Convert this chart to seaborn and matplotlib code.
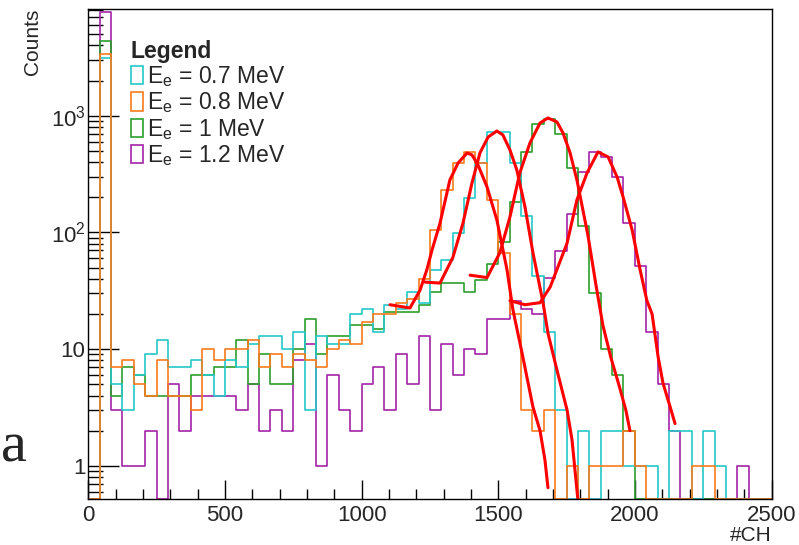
import numpy as np
import pandas as pd
import matplotlib
matplotlib.use("Agg")
import matplotlib.pyplot as plt
import seaborn as sns
from matplotlib.patches import Patch
from matplotlib.ticker import LogLocator, MultipleLocator, FixedLocator, FuncFormatter, NullFormatter

# binning of the spectra: 60 bins over 0-2500 channels
n_bins = 60
ch_max = 2500

series_names = ["0.7", "0.8", "1", "1.2"]
legend_labels = [r"$\mathregular{E_e}$ = 0.7 MeV", r"$\mathregular{E_e}$ = 0.8 MeV",
                 r"$\mathregular{E_e}$ = 1 MeV", r"$\mathregular{E_e}$ = 1.2 MeV"]
colors = {"0.7": "#25C8C8", "0.8": "#F97A1C", "1": "#2E9E2E", "1.2": "#A323A8"}

# counts per bin
counts_07 = [0, 3100, 5, 3, 6, 9, 12, 7, 7, 8, 6, 4, 8, 7, 11, 13, 13, 10, 14, 3,
             13, 11, 11, 20, 22, 14, 24, 22, 31, 25, 48, 58, 98, 196, 390, 721, 721, 390, 138, 42,
             14, 3, 0, 2, 0, 2, 2, 1, 1, 1, 0, 2, 2, 0, 2, 1, 0, 0, 0, 0]
counts_08 = [0, 3380, 7, 8, 5, 4, 8, 4, 4, 3, 10, 8, 10, 10, 12, 7, 9, 7, 9, 8,
             7, 10, 12, 11, 17, 20, 20, 25, 27, 40, 104, 230, 396, 485, 396, 189, 66, 20, 3, 2,
             3, 0, 1, 0, 1, 1, 1, 2, 1, 0, 0, 0, 0, 1, 1, 0, 0, 0, 0, 0]
counts_10 = [0, 4370, 4, 7, 6, 4, 4, 4, 4, 6, 6, 7, 7, 12, 5, 9, 5, 5, 10, 18,
             9, 13, 13, 16, 16, 15, 21, 21, 21, 24, 31, 37, 37, 31, 39, 54, 83, 181, 490, 850,
             937, 697, 354, 113, 30, 10, 6, 2, 0, 0, 0, 0, 0, 0, 0, 0, 0, 0, 0, 0]
counts_12 = [0, 7700, 3, 1, 1, 2, 0, 5, 2, 4, 4, 4, 4, 3, 5, 2, 3, 2, 8, 11,
             1, 6, 3, 2, 5, 7, 3, 9, 5, 13, 3, 11, 6, 10, 9, 18, 18, 26, 22, 20,
             41, 69, 145, 327, 492, 446, 300, 120, 52, 14, 5, 2, 0, 0, 0, 0, 0, 1, 0, 0]

# fitted curves (channel, counts)
fit_08_ch = [1104, 1177, 1214, 1239, 1258, 1287, 1323, 1353, 1386, 1404, 1426, 1459, 1495, 1532,
             1554, 1587, 1627, 1653, 1671, 1682]
fit_08_counts = [24, 22.5, 32, 48, 71, 120, 281, 393, 479, 461, 378, 245, 128, 48,
                 21.6, 9.3, 3.2, 2.0, 1.12, 0.65]
fit_07_ch = [1232, 1287, 1334, 1371, 1404, 1433, 1463, 1495, 1517, 1543, 1568, 1598, 1627, 1664,
             1682, 1715, 1752, 1770, 1792]
fit_07_counts = [37.5, 36.8, 61, 120, 265, 479, 656, 739, 684, 508, 343, 165, 67, 25,
                 13.7, 6.6, 3.0, 1.67, 0.5]
fit_10_ch = [1397, 1459, 1506, 1543, 1579, 1616, 1653, 1682, 1715, 1737, 1763, 1788, 1828, 1858,
             1883, 1912, 1942, 1967, 1982]
fit_10_counts = [43, 41, 67, 136, 323, 583, 866, 955, 883, 711, 479, 281, 95, 35,
                 16, 8.5, 4.9, 3.0, 2.0]
fit_12_ch = [1543, 1598, 1653, 1690, 1752, 1788, 1825, 1865, 1902, 1935, 1957, 1990, 2019, 2044,
             2063, 2085, 2103, 2129, 2147]
fit_12_counts = [26, 24, 25, 34, 81, 190, 323, 489, 443, 298, 201, 105, 48, 26,
                 20, 8.6, 5.1, 3.2, 2.3]

y_min, y_max = 0.52, 8200

sns.set_theme(style="ticks")
plt.rcParams["font.family"] = ["Liberation Sans", "DejaVu Sans"]
plt.rcParams["mathtext.fontset"] = "custom"
plt.rcParams["mathtext.rm"] = "Liberation Sans"
plt.rcParams["mathtext.it"] = "Liberation Sans:italic"

edges = np.linspace(0, ch_max, n_bins + 1)


def step_frame(counts, name):
    c = np.asarray(counts, dtype=float)
    # empty bins are drawn on the bottom of the frame, as ROOT does
    c = np.where(c > 0, c, y_min)
    return pd.DataFrame({"ch": edges, "counts": np.append(c, c[-1]), "series": name})


hist_df = pd.concat([
    step_frame(counts_07, "0.7"),
    step_frame(counts_08, "0.8"),
    step_frame(counts_10, "1"),
    step_frame(counts_12, "1.2"),
], ignore_index=True)

fig = plt.figure(figsize=(7.99, 5.45), dpi=100)
ax = fig.add_axes([0.1105, 0.0844, 0.8551, 0.8991])
ax.set_yscale("log")

sns.lineplot(data=hist_df, x="ch", y="counts", hue="series",
             hue_order=["1.2", "1", "0.7", "0.8"], palette=colors,
             drawstyle="steps-post", estimator=None, sort=False,
             lw=1.2, legend=False, ax=ax)

for fx, fy in [(fit_08_ch, fit_08_counts), (fit_07_ch, fit_07_counts),
               (fit_10_ch, fit_10_counts), (fit_12_ch, fit_12_counts)]:
    sns.lineplot(x=fx, y=fy, color="#FF0000", lw=2.2, estimator=None, sort=False, ax=ax)

ax.set_xlim(0, ch_max)
ax.set_ylim(y_min, y_max)

# axes and ticks in ROOT style
ax.xaxis.set_major_locator(MultipleLocator(500))
ax.xaxis.set_minor_locator(MultipleLocator(100))
ax.yaxis.set_major_locator(FixedLocator([1, 10, 100, 1000]))
ax.yaxis.set_minor_locator(LogLocator(base=10, subs=np.arange(2, 10)))
ax.yaxis.set_minor_formatter(NullFormatter())
ax.yaxis.set_major_formatter(FuncFormatter(
    lambda v, pos: "1" if v == 1 else ("10" if v == 10 else r"$\mathregular{10^{%d}}$" % round(np.log10(v)))))

ax.tick_params(which="both", direction="in", top=False, right=False, color="black")
ax.tick_params(axis="x", which="major", length=14, width=1, labelsize=16, pad=4)
ax.tick_params(axis="x", which="minor", length=7, width=1)
ax.tick_params(axis="y", which="major", length=22, width=1, labelsize=16, pad=2)
ax.tick_params(axis="y", which="minor", length=11, width=1)
for s in ax.spines.values():
    s.set_color("black")
    s.set_linewidth(1)

ax.set_xlabel("#CH", loc="right", fontsize=15, labelpad=0)
ax.set_ylabel("Counts", loc="top", fontsize=15)
ax.yaxis.set_label_coords(-0.068, 1.0)

handles = [Patch(facecolor="white", edgecolor=colors[n], lw=1.2) for n in series_names]
leg = ax.legend(handles, legend_labels, title="Legend", loc="upper left",
                bbox_to_anchor=(0.062, 0.937), frameon=False, fontsize=16.5,
                title_fontproperties={"weight": "bold", "size": 16.5},
                handlelength=0.55, handleheight=0.85, handletextpad=0.15,
                labelspacing=0.06, borderaxespad=0, borderpad=0, alignment="left")

# fragment of the neighbouring panel label
fig.text(0.001, 1 - 461 / 545, "a", fontsize=42, family="Liberation Serif",
         ha="left", va="baseline")

fig.savefig("out.png", dpi=100)
